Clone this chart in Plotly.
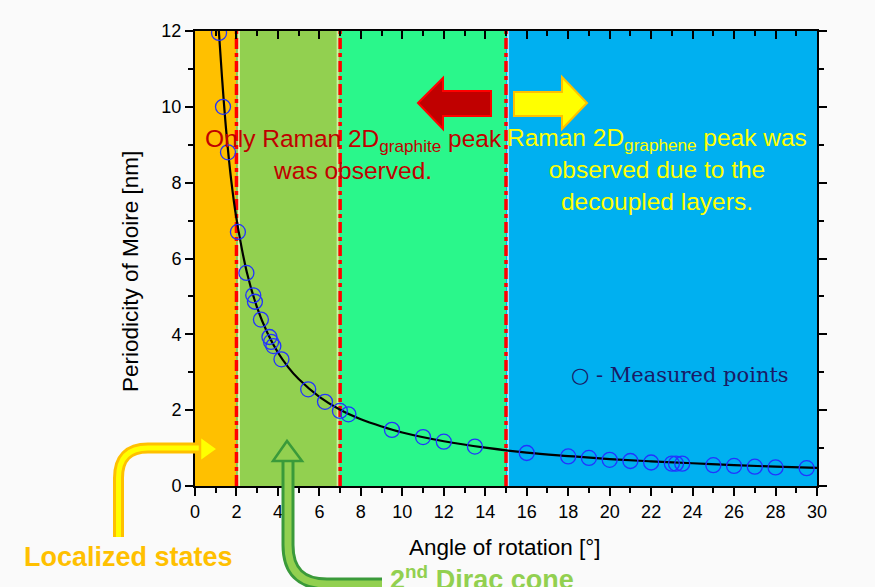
import plotly.graph_objects as go

# ---------------- data ----------------
meas_x = [1.16, 1.35, 1.59, 2.07, 2.48, 2.81, 2.89, 3.18, 3.59, 3.67, 3.78, 4.17,
          5.46, 6.27, 6.99, 7.40, 9.5, 11.0, 12.0, 13.5, 16.0, 18.0, 19.0, 20.0,
          21.0, 22.0, 23.0, 23.2, 23.5, 25.0, 26.0, 27.0, 28.0, 29.5]
meas_y = [11.95, 10.0, 8.8, 6.7, 5.62, 5.03, 4.86, 4.39, 3.93, 3.80, 3.69, 3.34,
          2.55, 2.22, 1.98, 1.89, 1.48, 1.29, 1.17, 1.04, 0.87, 0.78, 0.74, 0.69,
          0.66, 0.62, 0.59, 0.59, 0.59, 0.55, 0.53, 0.51, 0.49, 0.47]

fit_x = [1.15, 1.3, 1.5, 1.75, 2.0, 2.5, 3.0, 3.5, 4.0, 4.5, 5.0, 6.0, 7.0, 8.0,
         9.0, 10.0, 12.0, 14.0, 16.0, 18.0, 20.0, 22.0, 24.0, 26.0, 28.0, 30.0]
fit_y = [12.0, 10.8, 9.4, 8.05, 7.05, 5.64, 4.70, 4.03, 3.52, 3.13, 2.82, 2.35,
         2.01, 1.76, 1.57, 1.41, 1.18, 1.01, 0.88, 0.79, 0.71, 0.65, 0.60, 0.55,
         0.51, 0.48]

band_edges = [0, 2, 7, 15, 30]
band_colors = ["#FFC000", "#92D050", "#2AF78B", "#00B0F0"]
divider_x = [2, 7, 15]

x_ticks = list(range(0, 31, 2))
y_ticks = list(range(0, 13, 2))

# ---------------- geometry helpers (pixel -> paper) ----------------
L, R, T, B = 195, 58, 31, 101
W, H = 875, 587
PW, PH = W - L - R, H - T - B


def P(x, y):
    return f"{(x - L) / PW:.5f},{(H - B - y) / PH:.5f}"


def poly(pts):
    return "M " + " L ".join(P(x, y) for x, y in pts) + " Z"


fig = go.Figure()

# fit curve
fig.add_trace(go.Scatter(x=fit_x, y=fit_y, mode="lines", line=dict(color="black", width=2.2, shape="spline"),
                         hoverinfo="skip", showlegend=False))
# measured points
fig.add_trace(go.Scatter(x=meas_x, y=meas_y, mode="markers",
                         marker=dict(symbol="circle-open", size=15, color="#2233FF", line=dict(width=1.3)),
                         showlegend=False))
# dummy trace for mirror axes
fig.add_trace(go.Scatter(x=[0], y=[0], xaxis="x2", yaxis="y2", mode="markers",
                         marker=dict(opacity=0), hoverinfo="skip", showlegend=False))

shapes = []
for i, c in enumerate(band_colors):
    shapes.append(dict(type="rect", xref="x", yref="y", x0=band_edges[i], x1=band_edges[i + 1], y0=0, y1=12,
                       fillcolor=c, line=dict(width=0), layer="below"))
# light seams
for sx, col in [(2.12, "rgba(255,255,210,0.8)"), (6.88, "rgba(230,255,200,0.7)"), (15.1, "rgba(200,240,255,0.8)")]:
    shapes.append(dict(type="line", xref="x", yref="y", x0=sx, x1=sx, y0=0, y1=12,
                       line=dict(color=col, width=2), layer="below"))
for dx in divider_x:
    shapes.append(dict(type="line", xref="x", yref="y", x0=dx, x1=dx, y0=0, y1=12,
                       line=dict(color="#FF0000", width=3.5, dash="11px,4px,4px,4px"), layer="below"))

# top arrows
shapes.append(dict(type="path", xref="paper", yref="paper",
                   path=poly([(418, 103), (443, 78), (443, 91), (491, 91), (491, 116), (443, 116), (443, 129)]),
                   fillcolor="#C00000", line=dict(color="#FF0000", width=2)))
shapes.append(dict(type="path", xref="paper", yref="paper",
                   path=poly([(514, 92), (562, 92), (562, 77), (587, 103), (562, 129), (562, 116), (514, 116)]),
                   fillcolor="#FFFF00", line=dict(color="#FFC000", width=2)))

# yellow bent arrow (Localized states)
ypath = f"M {P(118.5, 537)} L {P(118.5, 478)} Q {P(118.5, 448)} {P(148, 448)} L {P(204, 448)}"
shapes.append(dict(type="path", xref="paper", yref="paper", path=ypath, line=dict(color="#FFC000", width=11)))
shapes.append(dict(type="path", xref="paper", yref="paper", path=ypath, line=dict(color="#FFFF00", width=5)))
shapes.append(dict(type="path", xref="paper", yref="paper", path=poly([(200, 436), (218, 449), (200, 462)]),
                   fillcolor="#FFFF00", line=dict(color="#FFC000", width=2.5)))

# green bent arrow (2nd Dirac cone)
gpath = f"M {P(288, 458)} L {P(288, 545)} Q {P(288, 584)} {P(327, 584)} L {P(382, 584)}"
shapes.append(dict(type="path", xref="paper", yref="paper", path=gpath, line=dict(color="#3A9A3A", width=13)))
shapes.append(dict(type="path", xref="paper", yref="paper", path=gpath, line=dict(color="#92D050", width=7)))
shapes.append(dict(type="path", xref="paper", yref="paper", path=poly([(273, 461), (287, 441), (302, 461)]),
                   fillcolor="#92D050", line=dict(color="#3A9A3A", width=2.5)))


def ann(text, x, y, size, color, family="Liberation Sans", angle=0, **kw):
    xs, ys = P(x, y).split(",")
    return dict(text=text, x=float(xs), y=float(ys), xref="paper", yref="paper", showarrow=False,
                font=dict(size=size, color=color, family=family), textangle=angle,
                xanchor="center", yanchor="middle", **kw)


annotations = [
    ann("Only Raman 2D<sub>graphite</sub> peak<br>was observed.", 353, 154, 24.5, "#C00000"),
    ann("Raman 2D<sub>graphene</sub> peak was<br>observed due to the<br>decoupled layers.", 657, 170, 24.5, "#FFFF00"),
    ann("○ - Measured points", 680, 375, 21, "#1A1A66", family="DejaVu Serif"),
    ann("Angle of rotation [°]", 505, 548, 22.5, "black"),
    ann("Periodicity of Moire [nm]", 131, 272, 22.5, "black", angle=-90),
    ann("<b>Localized states</b>", 129, 557, 27, "#FFC000"),
    ann("<b>2<sup>nd</sup> Dirac cone</b>", 482, 578, 27, "#92D050"),
]

axis_common = dict(showgrid=False, zeroline=False, showline=True, linecolor="black", linewidth=2)

fig.update_layout(
    width=W, height=H,
    margin=dict(l=L, r=R, t=T, b=B, pad=0),
    paper_bgcolor="#FAFAFA", plot_bgcolor="#00B0F0",
    font=dict(family="Liberation Sans", color="black"),
    xaxis=dict(range=[0, 30], tickvals=x_ticks, ticks="outside", ticklen=8, tickwidth=1.5, tickcolor="black",
               minor=dict(dtick=1, tick0=0, ticks="outside", ticklen=5, tickwidth=1.5, tickcolor="black"),
               tickfont=dict(size=18), **axis_common),
    yaxis=dict(range=[0, 12], tickvals=y_ticks, ticks="outside", ticklen=8, tickwidth=1.5, tickcolor="black",
               minor=dict(dtick=1, tick0=0, ticks="outside", ticklen=5, tickwidth=1.5, tickcolor="black"),
               tickfont=dict(size=18), **axis_common),
    xaxis2=dict(range=[0, 30], overlaying="x", side="top", anchor="y", tickvals=x_ticks, ticks="inside",
                ticklen=8, tickwidth=1.5, tickcolor="black", showticklabels=False,
                minor=dict(dtick=1, tick0=0, ticks="inside", ticklen=5, tickwidth=1.5, tickcolor="black"),
                **axis_common),
    yaxis2=dict(range=[0, 12], overlaying="y", side="right", anchor="x", tickvals=y_ticks, ticks="outside",
                ticklen=8, tickwidth=1.5, tickcolor="black", showticklabels=False,
                minor=dict(dtick=1, tick0=0, ticks="outside", ticklen=5, tickwidth=1.5, tickcolor="black"),
                **axis_common),
    shapes=shapes,
    annotations=annotations,
    showlegend=False,
)

fig.write_html("out.html")
